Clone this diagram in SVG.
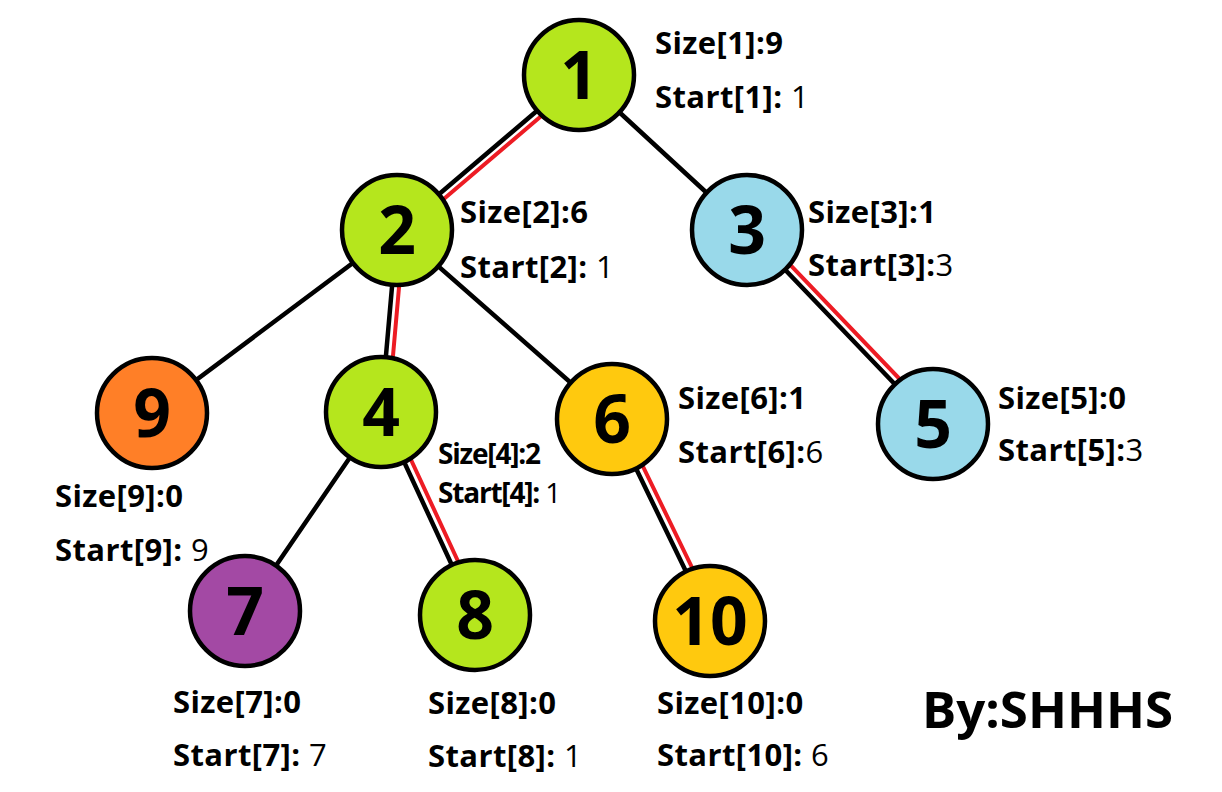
<svg xmlns="http://www.w3.org/2000/svg" width="1222" height="792" viewBox="0 0 1222 792">
<style>
.bk{stroke:#000;stroke-width:4.5;stroke-linecap:round}
.rd{stroke:#ed1c24;stroke-width:4;stroke-linecap:round}
.n{stroke:#000;stroke-width:4.5}
.g{fill:#b5e61d}.b{fill:#99d9ea}.o{fill:#ff7f27}.y{fill:#ffc90e}.p{fill:#a349a4}
.d{font-family:"Open Sans","Noto Sans",sans-serif;font-weight:bold;font-size:66px;fill:#000;text-anchor:middle}
.l{font-family:"Open Sans","Noto Sans",sans-serif;font-weight:bold;font-size:31px;letter-spacing:0.4px;fill:#000}
.s{font-family:"Open Sans","Noto Sans",sans-serif;font-weight:bold;font-size:28px;fill:#000;letter-spacing:-1.2px}
.v{font-weight:normal}
.sig{font-family:"Open Sans","Noto Sans",sans-serif;font-weight:bold;font-size:51px;fill:#000}
</style>
<rect width="1222" height="792" fill="#fff"/>
<g id="connectors">
<line class="bk" x1="579" y1="75" x2="397" y2="230"/>
<line class="rd" x1="583.5" y1="80" x2="401.5" y2="235"/>
<line class="bk" x1="579" y1="75" x2="747" y2="230"/>
<line class="bk" x1="397" y1="230" x2="152" y2="413"/>
<line class="bk" x1="397" y1="230" x2="381" y2="412"/>
<line class="rd" x1="404" y1="230.6" x2="388" y2="412.6"/>
<line class="bk" x1="397" y1="230" x2="612" y2="419"/>
<line class="bk" x1="747" y1="230" x2="933" y2="424"/>
<line class="rd" x1="752" y1="225" x2="938" y2="419"/>
<line class="bk" x1="381" y1="412" x2="245" y2="611"/>
<line class="bk" x1="381" y1="412" x2="475" y2="615"/>
<line class="rd" x1="387.5" y1="409" x2="481.5" y2="612"/>
<line class="bk" x1="612" y1="419" x2="710" y2="621"/>
<line class="rd" x1="618.5" y1="416" x2="716.5" y2="618"/>
</g>
<g id="node1"><circle class="n g" cx="579" cy="75" r="55"/><text class="d" x="579" y="99">1</text>
<text class="l" x="655" y="54">Size[1]:9</text><text class="l" x="655" y="108">Start[1]: <tspan class="v">1</tspan></text></g>
<g id="node2"><circle class="n g" cx="397" cy="230" r="55"/><text class="d" x="397" y="254">2</text>
<text class="l" x="460" y="223">Size[2]:6</text><text class="l" x="460" y="278">Start[2]: <tspan class="v">1</tspan></text></g>
<g id="node3"><circle class="n b" cx="747" cy="230" r="55"/><text class="d" x="747" y="254">3</text>
<text class="l" x="808" y="223">Size[3]:1</text><text class="l" x="808" y="276">Start[3]:<tspan class="v">3</tspan></text></g>
<g id="node9"><circle class="n o" cx="152" cy="413" r="55"/><text class="d" x="152" y="437">9</text>
<text class="l" x="55" y="507">Size[9]:0</text><text class="l" x="55" y="561">Start[9]: <tspan class="v">9</tspan></text></g>
<g id="node4"><circle class="n g" cx="381" cy="412" r="55"/><text class="d" x="381" y="436">4</text>
<text class="s" x="438" y="464">Size[4]:2</text><text class="s" x="438" y="503">Start[4]: <tspan class="v">1</tspan></text></g>
<g id="node6"><circle class="n y" cx="612" cy="419" r="55"/><text class="d" x="612" y="443">6</text>
<text class="l" x="678" y="409">Size[6]:1</text><text class="l" x="678" y="463">Start[6]:<tspan class="v">6</tspan></text></g>
<g id="node5"><circle class="n b" cx="933" cy="424" r="55"/><text class="d" x="933" y="448">5</text>
<text class="l" x="998" y="409">Size[5]:0</text><text class="l" x="998" y="461">Start[5]:<tspan class="v">3</tspan></text></g>
<g id="node7"><circle class="n p" cx="245" cy="611" r="55"/><text class="d" x="245" y="635">7</text>
<text class="l" x="173" y="713">Size[7]:0</text><text class="l" x="173" y="766">Start[7]: <tspan class="v">7</tspan></text></g>
<g id="node8"><circle class="n g" cx="475" cy="615" r="55"/><text class="d" x="475" y="639">8</text>
<text class="l" x="428" y="714">Size[8]:0</text><text class="l" x="428" y="767">Start[8]: <tspan class="v">1</tspan></text></g>
<g id="node10"><circle class="n y" cx="710" cy="621" r="55"/><text class="d" x="710" y="645">10</text>
<text class="l" x="657" y="714">Size[10]:0</text><text class="l" x="657" y="766">Start[10]: <tspan class="v">6</tspan></text></g>
<text class="sig" x="922" y="728">By:SHHHS</text>
</svg>
